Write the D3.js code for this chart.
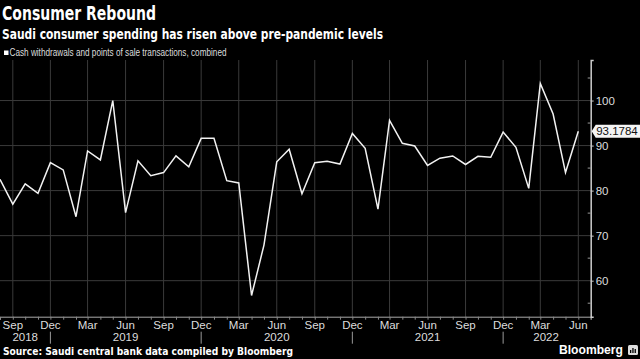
<!DOCTYPE html>
<html>
<head>
<meta charset="utf-8">
<style>
  body { margin: 0; background: #000; }
  svg { display: block; background: #000; }
</style>
<script src="https://cdn.jsdelivr.net/npm/d3@7"></script>
</head>
<body>
<div id="chart"></div>
<script>
// monthly index, Aug 2018 .. Jun 2022
var firstMonth = "2018-08";
var lastMonth = "2022-06";
var spending = [
  82.5, 77.0, 81.5, 79.4, 86.2,
  84.6, 74.2, 88.8, 86.8, 100.0, 75.1, 86.6, 83.3, 84.0, 87.7, 85.3, 91.6,
  91.6, 82.2, 81.7, 56.7, 67.9, 86.4, 89.2, 79.3, 86.2, 86.5, 85.9, 92.7,
  89.4, 75.9, 95.6, 90.5, 89.9, 85.6, 87.2, 87.7, 85.8, 87.6, 87.4, 93.0,
  89.6, 80.5, 103.8, 97.0, 84.0, 93.1784
];
var yTicks = [60, 70, 80, 90, 100];
var yMinorTicks = [55, 65, 75, 85, 95, 105];
var yearLabels = ["2018", "2019", "2020", "2021", "2022"];
var yearLabelAt = ["2018-10-01", "2019-06-01", "2020-06-01", "2021-06-01", "2022-03-15"];
var lastLabel = "93.1784";

var W = 640, H = 359;
var parseM = d3.timeParse("%Y-%m");
var parseD = d3.timeParse("%Y-%m-%d");
var start = parseM(firstMonth), end = parseM(lastMonth);
var months = d3.timeMonth.range(start, d3.timeMonth.offset(end, 1));
var data = months.map(function (m, i) { return { date: m, value: spending[i] }; });

var plotLeft = 0, plotRight = 590.7, plotTop = 60, plotBottom = 316.7;

var x = d3.scaleTime()
  .domain([start, d3.timeMonth.offset(end, 1)])
  .range([plotLeft, plotRight]);
var y = d3.scaleLinear()
  .domain([52, 109])
  .range([plotBottom, plotTop]);

var svg = d3.select("#chart").append("svg")
  .attr("width", W).attr("height", H);

// titles
svg.append("text").attr("x", 2).attr("y", 20)
  .attr("fill", "#fff").attr("font-family", "DejaVu Sans").attr("font-weight", "bold")
  .attr("font-size", 19).attr("textLength", 154).attr("lengthAdjust", "spacingAndGlyphs")
  .text("Consumer Rebound");
svg.append("text").attr("x", 2).attr("y", 38.5)
  .attr("fill", "#fff").attr("font-family", "DejaVu Sans").attr("font-weight", "bold")
  .attr("font-size", 14.5).attr("textLength", 381).attr("lengthAdjust", "spacingAndGlyphs")
  .text("Saudi consumer spending has risen above pre-pandemic levels");

// legend
svg.append("rect").attr("x", 4).attr("y", 50.5).attr("width", 4.5).attr("height", 4.5).attr("fill", "#fff");
svg.append("text").attr("x", 9.5).attr("y", 55.5)
  .attr("fill", "#ddd").attr("font-family", "Liberation Sans").attr("font-size", 10)
  .attr("textLength", 217).attr("lengthAdjust", "spacingAndGlyphs")
  .text("Cash withdrawals and points of sale transactions, combined");

// grid
var quarterTicks = d3.timeMonth.range(start, d3.timeMonth.offset(end, 1))
  .filter(function (d) { return d.getMonth() % 3 === 2; });

svg.append("g").selectAll("line").data(yTicks).join("line")
  .attr("x1", plotLeft).attr("x2", plotRight)
  .attr("y1", function (d) { return y(d); }).attr("y2", function (d) { return y(d); })
  .attr("stroke", "#3a3a3a").attr("stroke-width", 1);
svg.append("g").selectAll("line").data(quarterTicks).join("line")
  .attr("x1", function (d) { return x(d); }).attr("x2", function (d) { return x(d); })
  .attr("y1", plotTop).attr("y2", plotBottom)
  .attr("stroke", "#3a3a3a").attr("stroke-width", 1);

// bottom axis
var xAxis = svg.append("g").attr("transform", "translate(0," + plotBottom + ")")
  .call(d3.axisBottom(x).ticks(d3.timeMonth.every(1)).tickSize(3).tickFormat(""));
xAxis.select(".domain").attr("stroke", "#aaa");
xAxis.selectAll(".tick line").attr("stroke", "#888");

svg.append("g").selectAll("text").data(quarterTicks).join("text")
  .attr("x", function (d) { return x(d); }).attr("y", plotBottom + 12)
  .attr("text-anchor", "middle").attr("fill", "#ddd")
  .attr("font-family", "Liberation Sans").attr("font-size", 11.5)
  .text(d3.timeFormat("%b"));

svg.append("g").selectAll("text").data(yearLabels).join("text")
  .attr("x", function (d, i) { return x(parseD(yearLabelAt[i])); }).attr("y", plotBottom + 24.5)
  .attr("text-anchor", "middle").attr("fill", "#ddd")
  .attr("font-family", "Liberation Sans").attr("font-size", 11.5)
  .text(function (d) { return d; });

// year separators under december
svg.append("g").selectAll("line")
  .data(quarterTicks.filter(function (d) { return d.getMonth() === 11; })).join("line")
  .attr("x1", function (d) { return x(d); }).attr("x2", function (d) { return x(d); })
  .attr("y1", plotBottom + 15).attr("y2", plotBottom + 27)
  .attr("stroke", "#999").attr("stroke-width", 1);

// right axis
var yAxis = svg.append("g").attr("transform", "translate(" + plotRight + ",0)")
  .call(d3.axisRight(y).tickValues(yTicks).tickSize(3).tickPadding(2));
yAxis.select(".domain").attr("stroke", "#ccc").attr("stroke-width", 1.5);
yAxis.selectAll(".tick line").attr("stroke", "#ccc");
yAxis.selectAll(".tick text").attr("fill", "#ddd")
  .attr("font-family", "Liberation Sans").attr("font-size", 11.5);
svg.append("g").selectAll("line").data(yMinorTicks).join("line")
  .attr("x1", plotRight - 3).attr("x2", plotRight)
  .attr("y1", function (d) { return y(d); }).attr("y2", function (d) { return y(d); })
  .attr("stroke", "#999");

// series line
svg.append("path").datum(data)
  .attr("fill", "none").attr("stroke", "#f2f2f2").attr("stroke-width", 1.5)
  .attr("stroke-linejoin", "miter")
  .attr("d", d3.line()
    .x(function (d) { return x(d.date); })
    .y(function (d) { return y(d.value); }));

// last value tag
var ly = y(spending[spending.length - 1]);
svg.append("path")
  .attr("d", "M" + (plotRight + 1) + "," + ly + " L" + (plotRight + 5) + "," + (ly - 6.5) +
    " L" + W + "," + (ly - 6.5) + " L" + W + "," + (ly + 6.5) + " L" + (plotRight + 5) + "," + (ly + 6.5) + "Z")
  .attr("fill", "#f4f4f4");
svg.append("text").attr("x", plotRight + 5.5).attr("y", ly + 4.2)
  .attr("fill", "#111").attr("font-family", "Liberation Sans").attr("font-size", 11.5)
  .text(lastLabel);

// footer
svg.append("text").attr("x", 3).attr("y", 355)
  .attr("fill", "#fff").attr("font-family", "DejaVu Sans").attr("font-weight", "bold")
  .attr("font-size", 10.5).attr("textLength", 290).attr("lengthAdjust", "spacingAndGlyphs")
  .text("Source: Saudi central bank data compiled by Bloomberg");
svg.append("text").attr("x", 559).attr("y", 354)
  .attr("fill", "#fff").attr("font-family", "Liberation Sans").attr("font-weight", "bold")
  .attr("font-size", 13).attr("textLength", 64).attr("lengthAdjust", "spacingAndGlyphs")
  .text("Bloomberg");
svg.append("rect").attr("x", 628).attr("y", 345).attr("width", 10).attr("height", 10)
  .attr("rx", 1.5).attr("fill", "#ddd");
svg.append("g").selectAll("rect").data([3, 5, 4]).join("rect")
  .attr("x", function (d, i) { return 630 + i * 2.3; }).attr("y", function (d) { return 353 - d; })
  .attr("width", 1.3).attr("height", function (d) { return d; }).attr("fill", "#000");
</script>
</body>
</html>
